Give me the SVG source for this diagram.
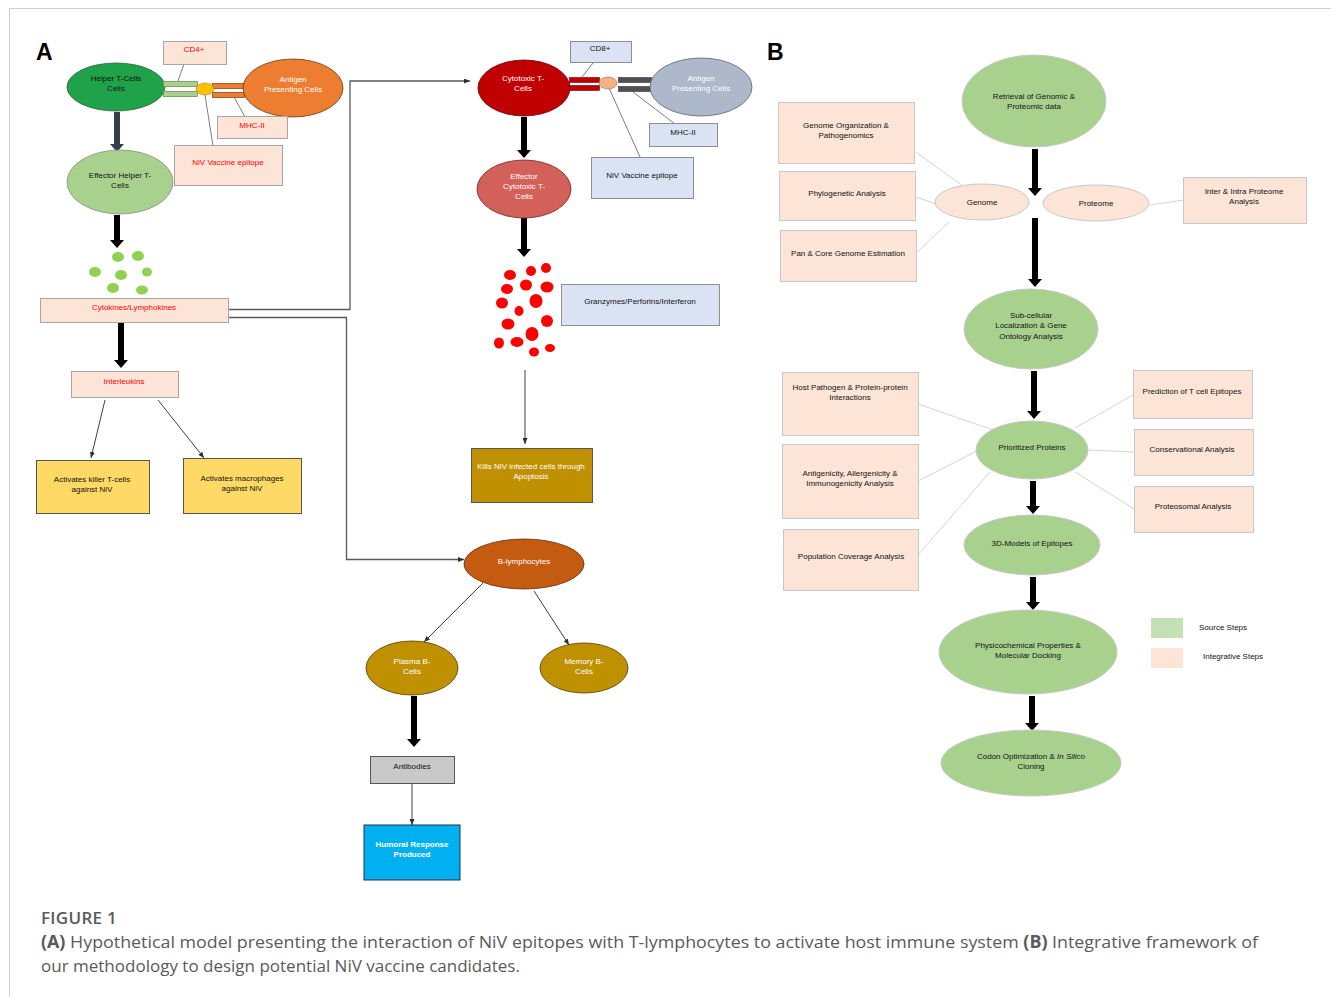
<svg xmlns="http://www.w3.org/2000/svg" width="1331" height="997" viewBox="0 0 1331 997">
<style>
.t{font-family:"Liberation Sans",Arial,sans-serif;font-size:8px;text-anchor:middle;fill:#111}
.red{fill:#ff0000}
.w{fill:#ffffff}
.pe{fill:#fce4d6;stroke:#a6a6a6;stroke-width:1}
.pb{fill:#fce4d6;stroke:#c8c8c8;stroke-width:1}
.bl{fill:#dae3f3;stroke:#8f8f8f;stroke-width:1}
.gn{fill:#a9d18e;stroke:#c8c8c8;stroke-width:1}
.ptr{stroke:#808080;stroke-width:1;fill:none}
.lb{stroke:#d4d4d4;stroke-width:1;fill:none}
.thick{stroke:#000;stroke-width:6;fill:none;marker-end:url(#bh)}
.thin{stroke:#404040;stroke-width:1;fill:none;marker-end:url(#th)}
.conn{stroke:#5a5a5a;stroke-width:1.3;fill:none}
.lab{font-family:"Liberation Sans",Arial,sans-serif;font-size:23px;font-weight:bold;fill:#000}
.cap{font-family:"Open Sans","Liberation Sans",sans-serif;font-size:17px;fill:#5a5a5a}
</style>
<defs>
<marker id="bh" markerUnits="userSpaceOnUse" viewBox="0 0 8 14" markerWidth="8" markerHeight="14" refX="0" refY="7" orient="auto"><path d="M0,0 L8,7 L0,14 z" fill="#000"/></marker>
<marker id="bhs" markerUnits="userSpaceOnUse" viewBox="0 0 8 14" markerWidth="8" markerHeight="14" refX="0" refY="7" orient="auto"><path d="M0,0 L8,7 L0,14 z" fill="#323f4f"/></marker>
<marker id="th" markerUnits="userSpaceOnUse" viewBox="0 0 6 5" markerWidth="6" markerHeight="5" refX="6" refY="2.5" orient="auto"><path d="M0,0 L6,2.5 L0,5 z" fill="#303030"/></marker>
</defs>
<rect width="1331" height="997" fill="#fff"/>
<path d="M9.5,997 V8.5 H1331" stroke="#d0d0d0" stroke-width="1" fill="none"/>
<text class="lab" x="36" y="60">A</text>
<text class="lab" x="767" y="60">B</text>

<g id="connectors">
<!-- panel A pointer lines -->
<line class="ptr" x1="184" y1="64" x2="178" y2="81"/>
<line class="ptr" x1="234" y1="97" x2="245" y2="117"/>
<line class="ptr" x1="205" y1="95" x2="213" y2="146"/>
<line class="ptr" x1="593" y1="63" x2="582" y2="77"/>
<line class="ptr" x1="633" y1="92" x2="675" y2="124"/>
<line class="ptr" x1="609" y1="88" x2="640" y2="157"/>
<!-- thick arrows A -->
<line x1="117" y1="112" x2="117" y2="144" stroke="#323f4f" stroke-width="6" marker-end="url(#bhs)"/>
<line class="thick" x1="117" y1="215" x2="117" y2="240"/>
<line class="thick" x1="121" y1="323" x2="121" y2="360"/>
<line class="thick" x1="524" y1="117" x2="524" y2="150"/>
<line class="thick" x1="524" y1="218" x2="524" y2="249"/>
<line class="thick" x1="414" y1="696" x2="414" y2="739"/>
<!-- thin arrows A -->
<line class="thin" x1="105" y1="400" x2="91" y2="458"/>
<line class="thin" x1="158" y1="400" x2="204" y2="458"/>
<line class="thin" x1="525" y1="370" x2="525" y2="444"/>
<line class="thin" x1="483" y1="583" x2="424" y2="642"/>
<line class="thin" x1="534" y1="591" x2="569" y2="645"/>
<line class="thin" x1="412" y1="783" x2="412" y2="825"/>
<!-- long connectors -->
<path class="conn" d="M229,309.5 H350 V81 H470" marker-end="url(#th)"/>
<path class="conn" d="M229,317.5 H346.5 V559.5 H464" marker-end="url(#th)"/>
<!-- panel B lines -->
<line class="lb" x1="916" y1="152" x2="964" y2="187"/>
<line class="lb" x1="916" y1="197" x2="936" y2="204"/>
<line class="lb" x1="916" y1="253" x2="949" y2="222"/>
<line class="lb" x1="1150" y1="205" x2="1184" y2="200"/>
<line class="lb" x1="918" y1="404" x2="993" y2="430"/>
<line class="lb" x1="918" y1="481" x2="977" y2="451"/>
<line class="lb" x1="918" y1="555" x2="990" y2="472"/>
<line class="lb" x1="1133" y1="395" x2="1075" y2="428"/>
<line class="lb" x1="1088" y1="450" x2="1134" y2="452"/>
<line class="lb" x1="1075" y1="472" x2="1134" y2="509"/>
<!-- panel B thick arrows -->
<line class="thick" x1="1035" y1="149" x2="1035" y2="188"/>
<line class="thick" x1="1035" y1="218" x2="1035" y2="279"/>
<line class="thick" x1="1034" y1="371" x2="1034" y2="411"/>
<line class="thick" x1="1033" y1="481" x2="1033" y2="506"/>
<line class="thick" x1="1033" y1="577" x2="1033" y2="602"/>
<line class="thick" x1="1032" y1="696" x2="1032" y2="723"/>
</g>

<g id="cd4">
<rect class="pe" x="163.5" y="41.5" width="63" height="23"/>
<text class="t red" x="194" y="52">CD4+</text>
</g>
<g id="helper-t">
<ellipse cx="116" cy="87" rx="49" ry="24" fill="#1fa34a" stroke="#3a5a3a" stroke-width="0.8"/>
<text class="t" x="116" y="81">Helper T-Cells</text>
<text class="t" x="116" y="91">Cells</text>
</g>
<g id="receptor-a">
<rect x="163.5" y="81.5" width="34" height="5" fill="#a9d18e" stroke="#6f8f5f" stroke-width="0.8"/>
<rect x="163.5" y="91.5" width="34" height="5" fill="#a9d18e" stroke="#6f8f5f" stroke-width="0.8"/>
<rect x="212.5" y="83.5" width="32" height="5" fill="#ed7d31" stroke="#8a4a20" stroke-width="0.8"/>
<rect x="212.5" y="92.5" width="32" height="5" fill="#ed7d31" stroke="#8a4a20" stroke-width="0.8"/>
<ellipse cx="205" cy="89" rx="9" ry="6" fill="#ffc000" stroke="#a08020" stroke-width="0.6"/>
</g>
<g id="apc-a">
<ellipse cx="293" cy="88" rx="50" ry="29" fill="#ed7d31" stroke="#6a3a10" stroke-width="0.8"/>
<text class="t w" x="293" y="82">Antigen</text>
<text class="t w" x="293" y="92">Presenting Cells</text>
</g>
<g id="mhc-a">
<rect class="pe" x="217.5" y="116.5" width="70" height="22"/>
<text class="t red" x="252" y="128">MHC-II</text>
</g>
<g id="epitope-a">
<rect class="pe" x="174.5" y="145.5" width="108" height="40"/>
<text class="t red" x="228" y="165">NiV Vaccine epitope</text>
</g>
<g id="effector-helper">
<ellipse cx="120" cy="182" rx="53" ry="32" fill="#a9d18e" stroke="#8a8a8a" stroke-width="0.8"/>
<text class="t" x="120" y="178">Effector Helper T-</text>
<text class="t" x="120" y="188">Cells</text>
</g>
<g id="cytokine-dots" fill="#92d050">
<ellipse cx="118" cy="257" rx="6" ry="5"/>
<ellipse cx="138" cy="256" rx="6" ry="5"/>
<ellipse cx="95" cy="272" rx="6" ry="5"/>
<ellipse cx="121" cy="275" rx="6" ry="5"/>
<ellipse cx="147" cy="272" rx="5" ry="4.5"/>
<ellipse cx="113" cy="288" rx="6" ry="5"/>
<ellipse cx="142" cy="290" rx="6" ry="4.5"/>
</g>
<g id="cytokines">
<rect class="pe" x="40.5" y="298.5" width="188" height="24"/>
<text class="t red" x="134" y="310">Cytokines/Lymphokines</text>
</g>
<g id="interleukins">
<rect class="pe" x="71.5" y="371.5" width="107" height="26"/>
<text class="t red" x="124" y="384">Interleukins</text>
</g>
<g id="killer">
<rect x="36.5" y="460.5" width="113" height="53" fill="#ffd966" stroke="#555" stroke-width="1"/>
<text class="t" x="92" y="482">Activates killer T-cells</text>
<text class="t" x="92" y="492">against NiV</text>
</g>
<g id="macrophages">
<rect x="183.5" y="458.5" width="118" height="55" fill="#ffd966" stroke="#555" stroke-width="1"/>
<text class="t" x="242" y="481">Activates macrophages</text>
<text class="t" x="242" y="491">against NiV</text>
</g>

<g id="cd8">
<rect class="bl" x="570.5" y="41.5" width="61" height="21"/>
<text class="t" x="600" y="51">CD8+</text>
</g>
<g id="cytotoxic-t">
<ellipse cx="524" cy="88" rx="46" ry="28" fill="#c00000" stroke="#5a0000" stroke-width="0.8"/>
<text class="t w" x="523" y="81">Cytotoxic T-</text>
<text class="t w" x="523" y="91">Cells</text>
</g>
<g id="receptor-b">
<rect x="569.5" y="77.5" width="30" height="5" fill="#c00000" stroke="#600" stroke-width="0.6"/>
<rect x="569.5" y="85.5" width="30" height="5" fill="#c00000" stroke="#600" stroke-width="0.6"/>
<rect x="618.5" y="77.5" width="33" height="5" fill="#505050" stroke="#333" stroke-width="0.6"/>
<rect x="618.5" y="86.5" width="33" height="5" fill="#505050" stroke="#333" stroke-width="0.6"/>
<ellipse cx="608" cy="83" rx="9" ry="6" fill="#f4b183" stroke="#a06040" stroke-width="0.6"/>
</g>
<g id="apc-b">
<ellipse cx="701" cy="87" rx="51" ry="29" fill="#adb9ca" stroke="#5a6470" stroke-width="0.8"/>
<text class="t w" x="701" y="81">Antigen</text>
<text class="t w" x="701" y="91">Presenting Cells</text>
</g>
<g id="mhc-b">
<rect class="bl" x="649.5" y="123.5" width="68" height="23"/>
<text class="t" x="683" y="135">MHC-II</text>
</g>
<g id="epitope-b">
<rect class="bl" x="591.5" y="157.5" width="102" height="41"/>
<text class="t" x="642" y="178">NiV Vaccine epitope</text>
</g>
<g id="effector-cytotoxic">
<ellipse cx="524" cy="189" rx="47" ry="29" fill="#d4605a" stroke="#6a2a2a" stroke-width="0.8"/>
<text class="t w" x="524" y="179">Effector</text>
<text class="t w" x="524" y="189">Cytotoxic T-</text>
<text class="t w" x="524" y="199">Cells</text>
</g>
<g id="granzyme-dots" fill="#ff0000">
<ellipse cx="510" cy="275" rx="6" ry="5"/>
<ellipse cx="531" cy="271" rx="5" ry="5"/>
<ellipse cx="546" cy="268" rx="5" ry="5"/>
<ellipse cx="507" cy="289" rx="6" ry="5"/>
<ellipse cx="526" cy="285" rx="6" ry="5.5"/>
<ellipse cx="547" cy="287" rx="6.5" ry="5.5"/>
<ellipse cx="502" cy="303" rx="6" ry="5.5"/>
<ellipse cx="536" cy="301" rx="6.5" ry="7"/>
<ellipse cx="519" cy="311" rx="4.5" ry="5"/>
<ellipse cx="508" cy="324" rx="6.5" ry="5.5"/>
<ellipse cx="547" cy="321" rx="6" ry="6"/>
<ellipse cx="532" cy="334" rx="6.5" ry="7"/>
<ellipse cx="499" cy="343" rx="5" ry="5.5"/>
<ellipse cx="517" cy="342" rx="6.5" ry="5"/>
<ellipse cx="534" cy="352" rx="5" ry="4.5"/>
<ellipse cx="550" cy="348" rx="5" ry="4"/>
</g>
<g id="granzymes">
<rect class="bl" x="561.5" y="284.5" width="158" height="41"/>
<text class="t" x="640" y="304">Granzymes/Perforins/Interferon</text>
</g>
<g id="kills">
<rect x="471.5" y="448.5" width="121" height="54" fill="#bf9000" stroke="#555" stroke-width="1"/>
<text class="t w" x="531" y="469">Kills NiV infected cells through</text>
<text class="t w" x="531" y="479">Apoptosis</text>
</g>
<g id="b-lymphocytes">
<ellipse cx="524" cy="564" rx="60" ry="25" fill="#c55a11" stroke="#5a2a08" stroke-width="0.8"/>
<text class="t w" x="524" y="564">B-lymphocytes</text>
</g>
<g id="plasma">
<ellipse cx="412" cy="668" rx="46" ry="27" fill="#bf9000" stroke="#4a3a00" stroke-width="0.8"/>
<text class="t w" x="412" y="664">Plasma B-</text>
<text class="t w" x="412" y="674">Cells</text>
</g>
<g id="memory">
<ellipse cx="584" cy="668" rx="44" ry="25" fill="#bf9000" stroke="#4a3a00" stroke-width="0.8"/>
<text class="t w" x="584" y="664">Memory B-</text>
<text class="t w" x="584" y="674">Cells</text>
</g>
<g id="antibodies">
<rect x="370.5" y="756.5" width="84" height="27" fill="#c9c9c9" stroke="#555" stroke-width="1"/>
<text class="t" x="412" y="769">Antibodies</text>
</g>
<g id="humoral">
<rect x="364" y="825" width="96" height="55" fill="#00b0f0" stroke="#234" stroke-width="1"/>
<text class="t w" x="412" y="847" font-weight="bold">Humoral Response</text>
<text class="t w" x="412" y="857" font-weight="bold">Produced</text>
</g>

<!-- Panel B -->
<g id="retrieval">
<ellipse class="gn" cx="1034" cy="101" rx="72" ry="46"/>
<text class="t" x="1034" y="99">Retrieval of Genomic &amp;</text>
<text class="t" x="1034" y="109">Proteomic data</text>
</g>
<g id="genome-org">
<rect class="pb" x="778.5" y="102.5" width="136" height="61"/>
<text class="t" x="846" y="128">Genome Organization &amp;</text>
<text class="t" x="846" y="138">Pathogenomics</text>
</g>
<g id="phylogenetic">
<rect class="pb" x="779.5" y="171.5" width="136" height="49"/>
<text class="t" x="847" y="196">Phylogenetic Analysis</text>
</g>
<g id="pan-core">
<rect class="pb" x="780.5" y="230.5" width="136" height="51"/>
<text class="t" x="848" y="256">Pan &amp; Core Genome Estimation</text>
</g>
<g id="genome">
<ellipse class="pb" cx="982" cy="202" rx="47" ry="18"/>
<text class="t" x="982" y="205">Genome</text>
</g>
<g id="proteome">
<ellipse class="pb" cx="1096" cy="203" rx="53" ry="18"/>
<text class="t" x="1096" y="206">Proteome</text>
</g>
<g id="inter-intra">
<rect class="pb" x="1183.5" y="177.5" width="123" height="46"/>
<text class="t" x="1244" y="194">Inter &amp; Intra Proteome</text>
<text class="t" x="1244" y="204">Analysis</text>
</g>
<g id="subcellular">
<ellipse class="gn" cx="1031" cy="329" rx="67" ry="40"/>
<text class="t" x="1031" y="318">Sub-cellular</text>
<text class="t" x="1031" y="328">Localization &amp; Gene</text>
<text class="t" x="1031" y="339">Ontology Analysis</text>
</g>
<g id="host-pathogen">
<rect class="pb" x="782.5" y="372.5" width="136" height="63"/>
<text class="t" x="850" y="390">Host Pathogen &amp; Protein-protein</text>
<text class="t" x="850" y="400">Interactions</text>
</g>
<g id="antigenicity">
<rect class="pb" x="782.5" y="444.5" width="136" height="74"/>
<text class="t" x="850" y="476">Antigenicity, Allergenicity &amp;</text>
<text class="t" x="850" y="486">Immunogenicity Analysis</text>
</g>
<g id="population">
<rect class="pb" x="783.5" y="529.5" width="135" height="61"/>
<text class="t" x="851" y="559">Population Coverage Analysis</text>
</g>
<g id="prioritized">
<ellipse class="gn" cx="1032" cy="450" rx="56" ry="29"/>
<text class="t" x="1032" y="450">Prioritized Proteins</text>
</g>
<g id="prediction">
<rect class="pb" x="1133.5" y="370.5" width="119" height="48"/>
<text class="t" x="1192" y="394">Prediction of T cell Epitopes</text>
</g>
<g id="conservational">
<rect class="pb" x="1134.5" y="429.5" width="119" height="46"/>
<text class="t" x="1192" y="452">Conservational Analysis</text>
</g>
<g id="proteosomal">
<rect class="pb" x="1134.5" y="486.5" width="119" height="46"/>
<text class="t" x="1193" y="509">Proteosomal Analysis</text>
</g>
<g id="models3d">
<ellipse class="gn" cx="1032" cy="545" rx="68" ry="30"/>
<text class="t" x="1032" y="546">3D-Models of Epitopes</text>
</g>
<g id="physicochemical">
<ellipse class="gn" cx="1028" cy="652" rx="89" ry="42"/>
<text class="t" x="1028" y="648">Physicochemical Properties &amp;</text>
<text class="t" x="1028" y="658">Molecular Docking</text>
</g>
<g id="codon">
<ellipse class="gn" cx="1031" cy="763" rx="90" ry="33"/>
<text class="t" x="1031" y="759">Codon Optimization &amp; <tspan font-style="italic">In Silico</tspan></text>
<text class="t" x="1031" y="769">Cloning</text>
</g>
<g id="legend">
<rect x="1151" y="618" width="32" height="20" fill="#c5e0b4"/>
<text class="t" x="1199" y="630" text-anchor="start" style="text-anchor:start">Source Steps</text>
<rect x="1151" y="648" width="32" height="20" fill="#fce4d6"/>
<text class="t" x="1203" y="659" style="text-anchor:start">Integrative Steps</text>
</g>

<g id="caption">
<text class="cap" x="41" y="924" font-weight="600" letter-spacing="0.3" fill="#666">FIGURE 1</text>
<text class="cap" x="41" y="948" textLength="1217" lengthAdjust="spacingAndGlyphs"><tspan font-weight="bold">(A)</tspan> Hypothetical model presenting the interaction of NiV epitopes with T-lymphocytes to activate host immune system <tspan font-weight="bold">(B)</tspan> Integrative framework of</text>
<text class="cap" x="41" y="972">our methodology to design potential NiV vaccine candidates.</text>
</g>
</svg>
